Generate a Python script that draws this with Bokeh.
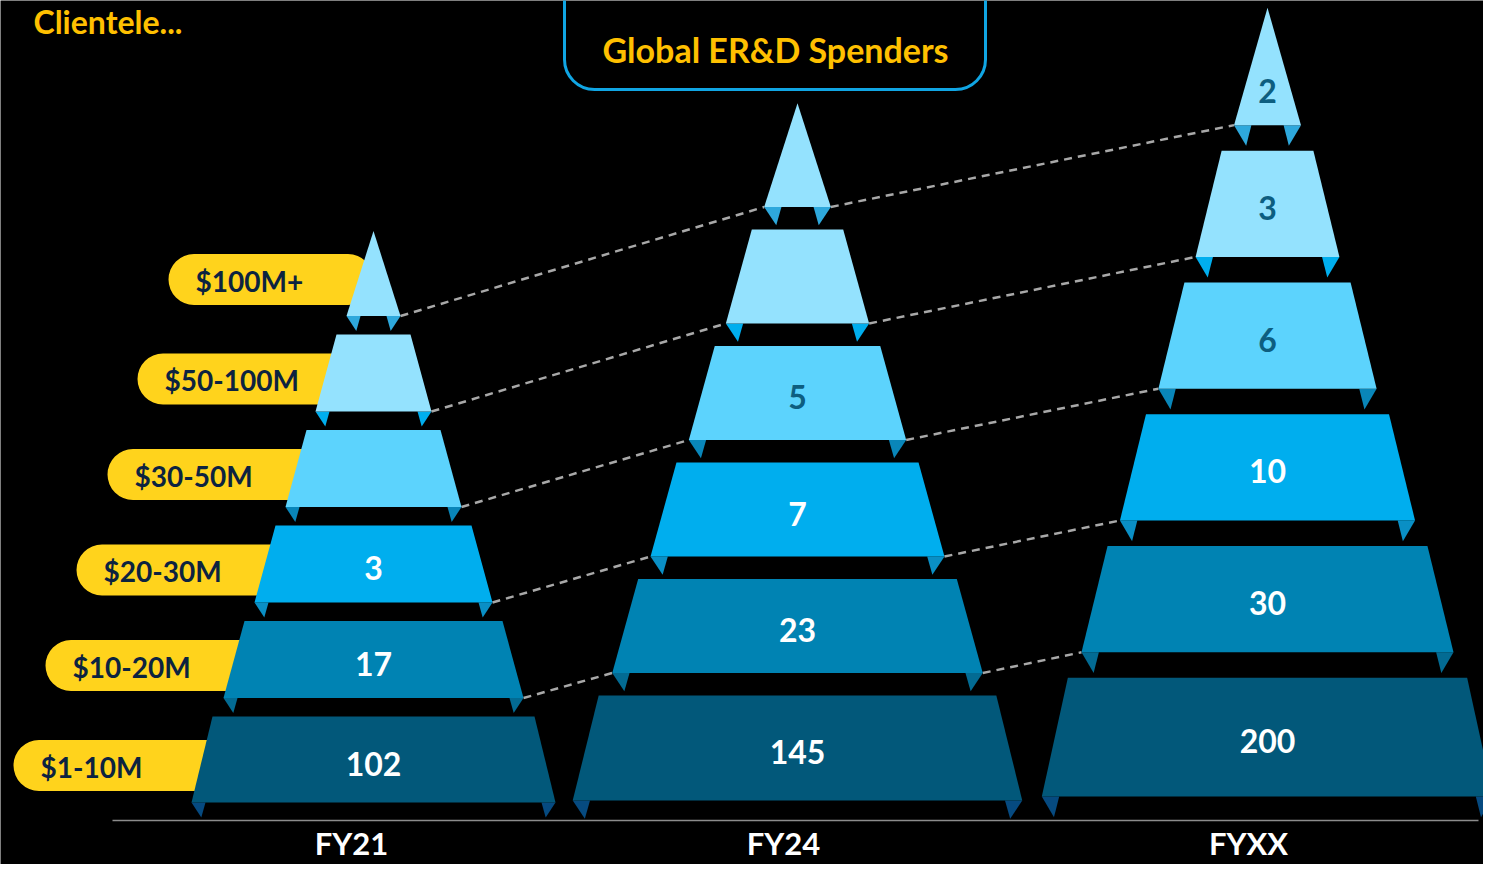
from bokeh.plotting import figure
from bokeh.models import Range1d
from bokeh.core.properties import value
from bokeh.embed import file_html
from bokeh.resources import INLINE

# ---------------- data ----------------
categories = ["FY21", "FY24", "FYXX"]
tiers = ["$1-10M", "$10-20M", "$20-30M", "$30-50M", "$50-100M", "$100M+"]
fy21 = [102, 17, 3, None, None, None]
fy24 = [145, 23, 7, 5, None, None]
fyxx = [200, 30, 10, 6, 3, 2]
series = [fy21, fy24, fyxx]
box_title = "Global ER&D Spenders"
heading = "Clientele..."

# ---------------- layout / style ----------------
FONT = value("Lato")
W, H = 1483, 864
pyr_cx = [373, 797, 1267]
pyr_base = [802, 800, 796]
pyr_kw = [1.0, 1.235, 1.24]
pyr_kh = [1.0, 1.22, 1.38]
tier_h = [86, 77, 77, 77, 77, 85]
tier_gap = 18.5
tier_bw = [182, 150, 119, 88, 58, 27]
tier_inset = 21
leg_w, leg_d, leg_tip = 14, 15, 0.7
cat_x = [351, 783, 1248]
cat_y = 842
tier_fill = ["#02587a", "#0083b3", "#00aeee", "#5cd3fd", "#94e2fe", "#94e2fe"]
leg_fill = ["#064a80", "#036b93", "#0a8fc5", "#0986b9", "#00aeee", "#2ea8dc"]
label_color = ["#ffffff"] * 3 + ["#0d5e80"] * 3
pill_fill = "#ffd31c"
pill_text = "#0c2340"
gold = "#ffc000"

p = figure(width=W, height=H, x_range=Range1d(0, W), y_range=Range1d(H, 0),
           output_backend="svg", toolbar_location=None,
           background_fill_color="black", border_fill_color="black", min_border=0)
p.axis.visible = False
p.grid.visible = False
p.outline_line_color = None

# geometry of every tier: (y_bottom, y_top, bottom half width, top half width)
geo = []
for k in range(3):
    y = pyr_base[k]
    kw, kh = pyr_kw[k], pyr_kh[k]
    g = []
    for i in range(len(tiers)):
        h = tier_h[i] * kh
        bh = tier_bw[i] * kw
        th = 0 if i == len(tiers) - 1 else bh - tier_inset * kw
        g.append((y, y - h, bh, th))
        y = y - h - tier_gap * kh
    geo.append(g)

# ---- pills (left labels) ----
pl, pr, pt, pb, ptx, pty = [], [], [], [], [], []
for i in range(len(tiers)):
    yb, yt, bh, th = geo[0][i]
    yc = (yb + yt) / 2 + 6
    left = pyr_cx[0] - bh - 178
    pl.append(left); pr.append(pyr_cx[0]); pt.append(yc - 25.5); pb.append(yc + 25.5)
    ptx.append(left + 27); pty.append(yc + 1)
p.quad(left=pl, right=pr, top=pt, bottom=pb, fill_color=pill_fill, line_color=None, border_radius=26)
p.text(x=ptx, y=pty, text=tiers, text_font=FONT, text_font_style="bold", text_font_size="28px",
       text_color=pill_text, text_align="left", text_baseline="middle")

# ---- dashed connectors ----
x0, y0, x1, y1 = [], [], [], []
for k in range(2):
    for i in range(1, len(tiers)):
        a = geo[k][i]; b = geo[k + 1][i]
        x0.append(pyr_cx[k] + a[2]); y0.append(a[0])
        x1.append(pyr_cx[k + 1] - b[2]); y1.append(b[0])
p.segment(x0=x0, y0=y0, x1=x1, y1=y1, line_color="#a8a8a8", line_width=2.5, line_dash="8 6")

# ---- baseline ----
p.segment(x0=[112], y0=[820], x1=[1478], y1=[820], line_color="#8c8c8c", line_width=1.5)

# ---- pyramids ----
txs, tys, tcol = [], [], []
lxs, lys, lcol = [], [], []
vx, vy, vt, vc = [], [], [], []
for k in range(3):
    cx = pyr_cx[k]
    kw, kh = pyr_kw[k], pyr_kh[k]
    for i in range(len(tiers)):
        yb, yt, bh, th = geo[k][i]
        txs.append([cx - bh, cx + bh, cx + th, cx - th])
        tys.append([yb, yb, yt, yt])
        tcol.append(tier_fill[i])
        lw, ld = leg_w * kw, leg_d * kh
        lxs.append([cx - bh, cx - bh + lw, cx - bh + lw * leg_tip]); lys.append([yb, yb, yb + ld]); lcol.append(leg_fill[i])
        lxs.append([cx + bh, cx + bh - lw, cx + bh - lw * leg_tip]); lys.append([yb, yb, yb + ld]); lcol.append(leg_fill[i])
        v = series[k][i]
        if v is not None:
            vx.append(cx)
            if i == len(tiers) - 1:
                vy.append(yb - 0.29 * (yb - yt))
            else:
                vy.append((yb + yt) / 2 + 4)
            vt.append(str(v))
            vc.append(label_color[i])

p.patches(xs=lxs, ys=lys, fill_color=lcol, line_color=None)
p.patches(xs=txs, ys=tys, fill_color=tcol, line_color=None)
p.text(x=vx, y=vy, text=vt, text_color=vc, text_font=FONT, text_font_style="bold",
       text_font_size="32px", text_align="center", text_baseline="middle")

# ---- category labels ----
p.text(x=cat_x, y=[cat_y] * 3, text=categories, text_color="#ffffff", text_font=FONT,
       text_font_style="bold", text_font_size="31px", text_align="center", text_baseline="middle")

# ---- title box ----
p.quad(left=[564], right=[985], top=[-40], bottom=[89], fill_color=None,
       line_color="#10a5e3", line_width=3, border_radius=30)
p.text(x=[775], y=[49], text=[box_title], text_color=gold, text_font=FONT, text_font_style="bold",
       text_font_size="34px", text_align="center", text_baseline="middle")
p.text(x=[33], y=[21], text=[heading], text_color=gold, text_font=FONT, text_font_style="bold",
       text_font_size="32px", text_align="left", text_baseline="middle")

open("out.html", "w").write(file_html(p, INLINE))
